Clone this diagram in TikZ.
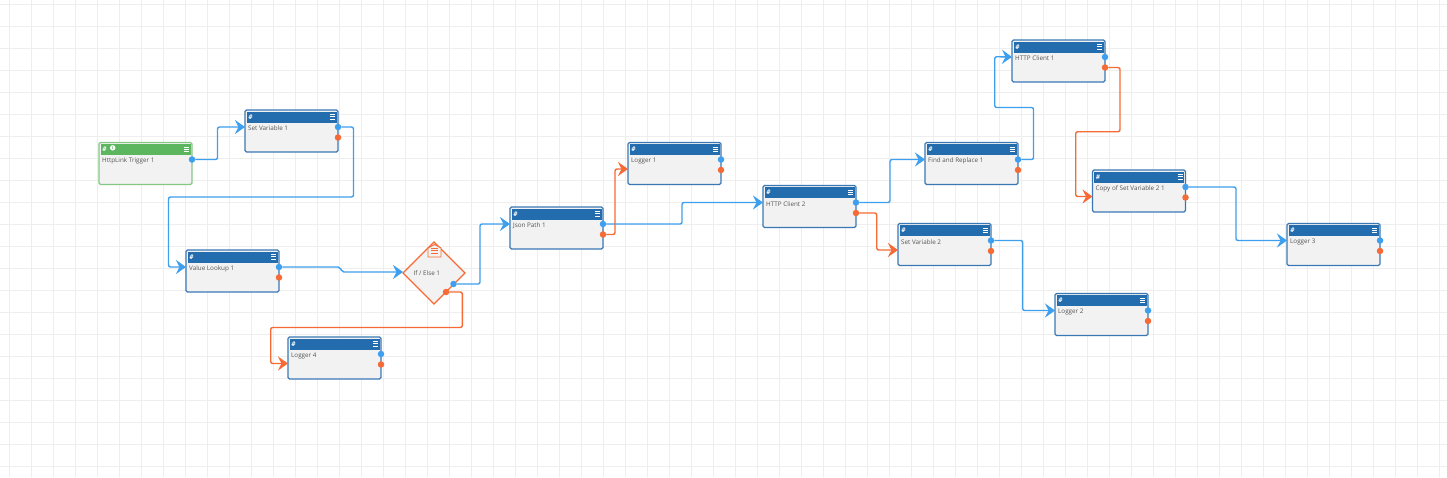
\documentclass[tikz,border=0pt]{standalone}
\usepackage{fontspec}
\usepackage{xcolor}
\usepackage{tikz}
\usetikzlibrary{arrows.meta,shapes.geometric}
\setmainfont{Open Sans}

\definecolor{gridgray}{HTML}{EEEEEE}
\definecolor{cardfill}{HTML}{F2F2F2}
\definecolor{cardblue}{HTML}{3A78B5}
\definecolor{headblue}{HTML}{236CAD}
\definecolor{cardgreen}{HTML}{84C884}
\definecolor{headgreen}{HTML}{5CB660}
\definecolor{wireblue}{HTML}{3D9FEE}
\definecolor{wireorange}{HTML}{F56A35}
\definecolor{textgray}{HTML}{555555}

% one card: name, left, top, text, border colour, header colour
\newcommand{\flowcard}[6]{
    \node[card, draw=#5] (#1) at (#2,#3) {};
    \node[headbar, fill=#6] (#1-head) at (#2+1.5,#3+1.5) {};
    \node[hashmark] (#1-hash) at (#2+5.5,#3+7) {\#};
    \node[cardtext] (#1-text) at (#2+2,#3+18.5) {#4};
    \draw[menubars] (#2+85,#3+4.5) -- ++(5,0) (#2+85,#3+6.7) -- ++(5,0) (#2+85,#3+8.9) -- ++(5,0);
    \coordinate (#1-in) at (#2,#3+17);
    \coordinate (#1-alt) at (#2,#3+26.5);
    \node[port, fill=wireblue] (#1-out) at (#2+93,#3+17) {};
}

\begin{document}
\begin{tikzpicture}[
    x=1pt, y=-1pt,
    card/.style={rectangle, anchor=north west, minimum width=93pt, minimum height=42pt, inner sep=0pt, outer sep=0pt, fill=cardfill, line width=1.2pt, rounded corners=1.5pt},
    headbar/.style={rectangle, anchor=north west, minimum width=90pt, minimum height=11pt, inner sep=0pt, outer sep=0pt},
    hashmark/.style={text=white, font=\fontsize{6.5}{6.5}\selectfont\bfseries\itshape, inner sep=0pt},
    cardtext/.style={anchor=west, text=textgray, font=\fontsize{6.3}{7}\selectfont, inner sep=1pt},
    menubars/.style={white, line width=0.8pt},
    port/.style={circle, minimum size=6.5pt, inner sep=0pt},
    wire/.style={line width=1.4pt, rounded corners=2pt, -{Stealth[length=10pt, width=14pt, inset=3.5pt]}},
    bluewire/.style={wire, wireblue},
    orangewire/.style={wire, wireorange}
]
    \useasboundingbox (0,0) rectangle (1447,477);
    \fill[white] (0,0) rectangle (1447,477);

    % Background grid
    \foreach \gx in {9.5,31.5,...,1447} {\draw[gridgray, line width=1pt] (\gx,0) -- (\gx,477);}
    \foreach \gy in {4.5,26.5,...,477} {\draw[gridgray, line width=1pt] (0,\gy) -- (1447,\gy);}

    % Trigger
    \flowcard{trigger}{99}{142.5}{HttpLink Trigger 1}{cardgreen}{headgreen}
    \node[circle, fill=white, text=headgreen, minimum size=5.5pt, inner sep=0pt, font=\fontsize{4.5}{4.5}\selectfont\bfseries] (trigger-info) at (112.7,147.8) {i};

    % Task cards
    \foreach \name/\px/\py/\txt in {
        setone/245/110/Set Variable 1,
        lookup/186/250/Value Lookup 1,
        loggerfour/288/337/Logger 4,
        jsonpath/510/207/Json Path 1,
        loggerone/628/142.5/Logger 1,
        clienttwo/763/185.5/HTTP Client 2,
        replace/925/142.5/Find and Replace 1,
        settwo/898/223.5/Set Variable 2,
        clientone/1012/40/HTTP Client 1,
        copyset/1092.5/170/Copy of Set Variable 2 1,
        loggertwo/1055/293.5/Logger 2,
        loggerthree/1287/223.5/Logger 3} {
        \flowcard{\name}{\px}{\py}{\txt}{cardblue}{headblue}
        \node[port, fill=wireorange] (\name-err) at (\px+93,\py+27.5) {};
    }

    % Decision
    \node[diamond, draw=wireorange, fill=cardfill, line width=1.1pt, minimum width=62pt, minimum height=62pt, inner sep=0pt, outer sep=0pt] (ifelse) at (434,273) {};
    \node[cardtext] (ifelse-text) at (412.5,273.5) {If / Else 1};
    \draw[wireorange, fill=cardfill, line width=0.9pt] (428,257) -- (428,248) -- (434.5,244.5) -- (441,248) -- (441,257) -- cycle;
    \draw[wireorange, line width=0.7pt] (431,248.5) -- ++(7,0) (431,250.7) -- ++(7,0) (431,252.9) -- ++(7,0);
    \coordinate (ifelse-in) at (403,272);
    \node[port, fill=wireblue] (ifelse-out) at (453.5,284) {};
    \node[port, fill=wireorange] (ifelse-err) at (446,292) {};

    % Blue connectors
    \draw[bluewire] (trigger-out) -- ++(25.5,0) |- (setone-in);
    \draw[bluewire] (setone-out) -| (353.5,197) -| (168.5,267) -- (lookup-in);
    \draw[bluewire] (lookup-out) -- (340,267) -- (342,272) -- (ifelse-in);
    \draw[bluewire] (ifelse-out) -- ++(26.5,0) |- (jsonpath-in);
    \draw[bluewire] (jsonpath-out) -- ++(79,0) |- (clienttwo-in);
    \draw[bluewire] (clienttwo-out) -- ++(34,0) |- (replace-in);
    \draw[bluewire] (replace-out) -| (1033.5,107.5) -| (994.7,56.7) -- (clientone-in);
    \draw[bluewire] (settwo-out) -- ++(31.7,0) |- (loggertwo-in);
    \draw[bluewire] (copyset-out) -- ++(50.5,0) |- (loggerthree-in);

    % Orange connectors
    \draw[orangewire] (ifelse-err) -| (462.3,327.5) -| (270.7,363.5) -- (loggerfour-alt);
    \draw[orangewire] (jsonpath-err) -- ++(12,0) |- (loggerone-alt);
    \draw[orangewire] (clienttwo-err) -- ++(20.7,0) |- (settwo-alt);
    \draw[orangewire] (clientone-err) -| (1120,131.7) -| (1075.7,196.5) -- (copyset-alt);
\end{tikzpicture}
\end{document}
